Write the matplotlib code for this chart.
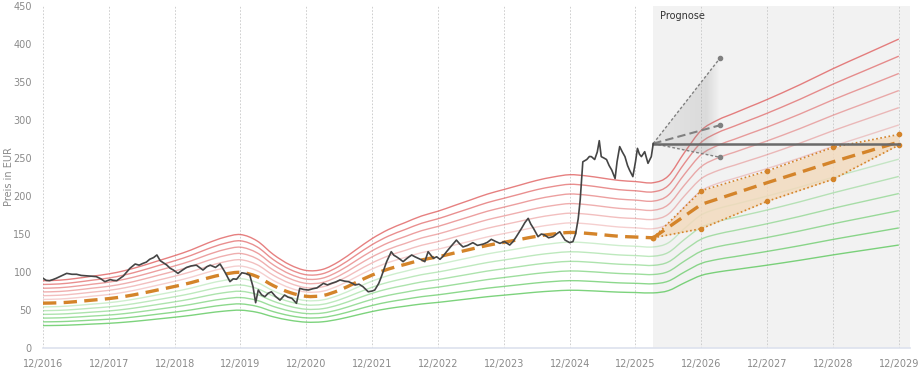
import matplotlib

matplotlib.use("Agg")
import matplotlib.pyplot as plt
import numpy as np
from matplotlib.patches import Polygon, PathPatch
from matplotlib.path import Path

# x axis: years after 12/2016
tick_labels = ["12/2016", "12/2017", "12/2018", "12/2019", "12/2020", "12/2021", "12/2022",
               "12/2023", "12/2024", "12/2025", "12/2026", "12/2027", "12/2028", "12/2029"]

# fair value (centre of the band)
fair_t = [0, 0.25, 0.5, 0.75, 1, 1.25, 1.5, 1.75, 2, 2.25, 2.5, 2.75, 3, 3.25, 3.5, 3.75,
          4, 4.25, 4.5, 4.75, 5, 5.25, 5.5, 5.75, 6, 6.25, 6.5, 6.75, 7, 7.25, 7.5, 7.75,
          8, 8.25, 8.5, 8.75, 9, 9.27]
fair_v = [59, 59.5, 61, 63, 65, 68, 72, 76.5, 81, 86, 92, 97, 99.5, 94, 82, 73,
          68, 69, 76, 86, 96, 104, 110, 115.8, 120, 125, 130, 135, 139, 143, 147, 150,
          152, 151, 149, 147, 146, 145]
# band centre in the forecast part
band_fc_t = [9.5, 9.75, 10, 10.25, 10.5, 10.75, 11, 11.5, 12, 12.5, 13]
band_fc_v = [151, 172, 191, 200, 206, 212, 218, 231, 245, 258, 271]
band_factors = [0.5, 0.583, 0.667, 0.75, 0.833, 0.917, 1.083, 1.167, 1.25, 1.333, 1.417, 1.5]

price_t = [0.00, 0.05, 0.10, 0.15, 0.20, 0.28, 0.36, 0.44, 0.51, 0.58, 0.66, 0.73, 0.81, 0.88, 0.94,
           1.02, 1.07, 1.12, 1.22, 1.32, 1.40, 1.46, 1.52, 1.57, 1.62, 1.68, 1.73, 1.78, 1.83, 1.88,
           1.93, 1.98, 2.05, 2.11, 2.18, 2.25, 2.33, 2.43, 2.49, 2.54, 2.62, 2.69, 2.76, 2.84, 2.89,
           2.94, 3.02, 3.08, 3.14, 3.19, 3.23, 3.27, 3.32, 3.37, 3.42, 3.47, 3.53, 3.60, 3.67, 3.72,
           3.78, 3.85, 3.90, 3.96, 4.03, 4.10, 4.16, 4.26, 4.32, 4.38, 4.45, 4.51, 4.58, 4.64, 4.70,
           4.74, 4.80, 4.86, 4.94, 5.00, 5.04, 5.10, 5.14, 5.22, 5.29, 5.33, 5.37, 5.42, 5.47, 5.53,
           5.60, 5.65, 5.70, 5.75, 5.80, 5.85, 5.93, 5.98, 6.03, 6.08, 6.13, 6.20, 6.28, 6.33, 6.38,
           6.45, 6.53, 6.60, 6.69, 6.75, 6.81, 6.88, 6.94, 7.01, 7.09, 7.14, 7.19, 7.27, 7.32, 7.37,
           7.41, 7.45, 7.52, 7.57, 7.62, 7.68, 7.75, 7.80, 7.85, 7.93, 8.00, 8.05, 8.09, 8.13, 8.16,
           8.20, 8.26, 8.30, 8.33, 8.38, 8.42, 8.45, 8.48, 8.52, 8.56, 8.60, 8.64, 8.69, 8.72, 8.76,
           8.80, 8.84, 8.88, 8.91, 8.96, 9.00, 9.03, 9.06, 9.09, 9.14, 9.19, 9.24, 9.27]
price_v = [91.7, 89, 88.6, 90, 91.7, 95, 98.2, 97, 97, 95.5, 95, 94.5, 93.9, 91, 87.3,
           90, 89, 88.6, 94.7, 104.8, 110.5, 109, 111.4, 113, 116.7, 119, 122.4, 114.9, 112, 109.2,
           105, 102.6, 98.2, 102, 106, 108, 109, 102.6, 107, 109, 106, 110.5, 100.4, 87.3, 91,
           90.4, 99, 98, 96, 80.7, 59.6, 76.3, 70, 67.5, 72, 74, 68, 63, 69.7, 67,
           65.4, 58.8, 78.5, 77, 76.3, 78, 79, 85.1, 83, 85, 87, 89.5, 88, 87.3, 85,
           82.9, 84, 80.7, 74, 75, 76.3, 85, 93.9, 113.6, 126.7, 122, 120, 117, 113.6, 118,
           122.4, 120, 118, 116, 113.6, 126.7, 118, 120, 116.7, 121, 126.7, 134, 142, 137, 133,
           135, 138.6, 135, 136.8, 139, 143, 140, 137.7, 140, 135.5, 140, 146.5, 157.5, 165, 170.6,
           163, 157.5, 146.5, 150, 148.7, 145, 146.5, 150, 153, 142, 138.6, 140, 150, 170, 194.7,
           245, 248, 252, 251.8, 248, 258, 272.8, 251.8, 250, 248, 240, 234, 223, 245, 265,
           258, 251.8, 240, 234, 225.5, 245, 262.7, 255, 251.8, 258.3, 243, 251.8, 269]

# forecast of fair value
fc_t = [9.27, 10, 11, 12, 13]
fc_mid = [145, 189, 217.5, 245, 271]
fc_high = [145, 207, 233, 264, 281]
fc_low = [145, 157, 193, 222, 267]

# analyst targets
current_price = 269
target_t = 10.28
targets = [381, 293, 251]

forecast_start = 9.27
orange = "#d4842a"


def smooth_path(xs, ys):
    # Catmull-Rom through the knots, drawn as cubic Bezier segments
    p = np.column_stack([xs, ys]).astype(float)
    verts = [p[0]]
    codes = [Path.MOVETO]
    n = len(p)
    for i in range(n - 1):
        p0 = p[i - 1] if i > 0 else p[i]
        p3 = p[i + 2] if i + 2 < n else p[i + 1]
        c1 = p[i] + (p[i + 1] - p0) / 6
        c2 = p[i + 1] - (p3 - p[i]) / 6
        verts += [c1, c2, p[i + 1]]
        codes += [Path.CURVE4] * 3
    return Path(verts, codes)


def smooth_line(ax, xs, ys, **kw):
    patch = PathPatch(smooth_path(xs, ys), facecolor="none", **kw)
    ax.add_patch(patch)
    return patch


fig = plt.figure(figsize=(9.22, 3.86), dpi=100)
ax = fig.add_axes([43 / 922, 38 / 386, 867 / 922, 342 / 386])
ax.set_xlim(0, 13.17)
ax.set_ylim(0, 450)

ax.axvspan(forecast_start, 13.17, color="#f2f2f2", zorder=0, lw=0)
for i in range(len(tick_labels)):
    ax.axvline(i, color="#c8c8c8", lw=0.6, ls=(0, (2, 2)), zorder=1)

# band lines
band_t = np.array(fair_t + band_fc_t)
band_c = np.array(fair_v + band_fc_v)
for f in band_factors:
    d = abs(f - 1) / 0.5
    col = "#e06060" if f > 1 else "#5cc85c"
    smooth_line(ax, band_t, band_c * f, edgecolor=col, lw=1.0, alpha=0.2 + 0.6 * d, zorder=2)

smooth_line(ax, fair_t, fair_v, edgecolor=orange, lw=2.4, ls=(0, (4, 2.2)), zorder=4)

# forecast corridor
ax.fill_between(fc_t, fc_low, fc_high, color="#f3d9bb", alpha=0.8, zorder=3, lw=0)
ax.plot(fc_t, fc_high, color=orange, lw=1.2, ls=(0, (1, 1.5)), marker="o", ms=3, zorder=4)
ax.plot(fc_t, fc_low, color=orange, lw=1.2, ls=(0, (1, 1.5)), marker="o", ms=3, zorder=4)
ax.plot(fc_t, fc_mid, color=orange, lw=2.4, ls=(0, (4, 2.2)), zorder=4)

# analyst fan
fan = Polygon([[forecast_start, current_price], [target_t, targets[0]], [target_t, targets[2]]],
              closed=True, facecolor="none", edgecolor="none")
ax.add_patch(fan)
grad = np.zeros((2, 100, 4))
xs = np.linspace(0, 1, 100)
grad[:, :, :3] = 0.55
grad[:, :, 3] = np.where(xs < 0.8, 0.13 + 0.1 * xs / 0.8, 0.23 * (1 - (xs - 0.8) / 0.2))
im = ax.imshow(grad, extent=[forecast_start, target_t, 240, 390], aspect="auto",
               origin="lower", zorder=3, interpolation="bilinear")
im.set_clip_path(fan)
for tv, lw, ls in zip(targets, [1.0, 1.5, 1.0], [(0, (2, 1.5)), (0, (4, 2)), (0, (2, 1.5))]):
    ax.plot([forecast_start, target_t], [current_price, tv], color="#808080", lw=lw, ls=ls, zorder=5)
    ax.plot([target_t], [tv], "o", color="#808080", ms=3, zorder=5)

ax.plot([forecast_start, 13], [current_price, current_price], color="#6a6a6a", lw=1.8, zorder=5)
ax.plot(price_t, price_v, color="#454545", lw=1.2, zorder=6)

ax.text(9.37, 437, "Prognose", fontsize=7, color="#333333", va="center", ha="left")

ax.set_xticks(range(len(tick_labels)))
ax.set_xticklabels(tick_labels)
ax.set_yticks(range(0, 451, 50))
ax.tick_params(length=0, labelsize=7, colors="#8a8a8a", pad=8)
ax.set_ylabel("Preis in EUR", fontsize=7, color="#8a8a8a")
ax.yaxis.set_label_coords(-0.034, 0.5)
for s in ["top", "right", "left"]:
    ax.spines[s].set_visible(False)
ax.spines["bottom"].set_color("#dde2ee")
ax.spines["bottom"].set_linewidth(1.2)

plt.savefig("out.png", dpi=100)
